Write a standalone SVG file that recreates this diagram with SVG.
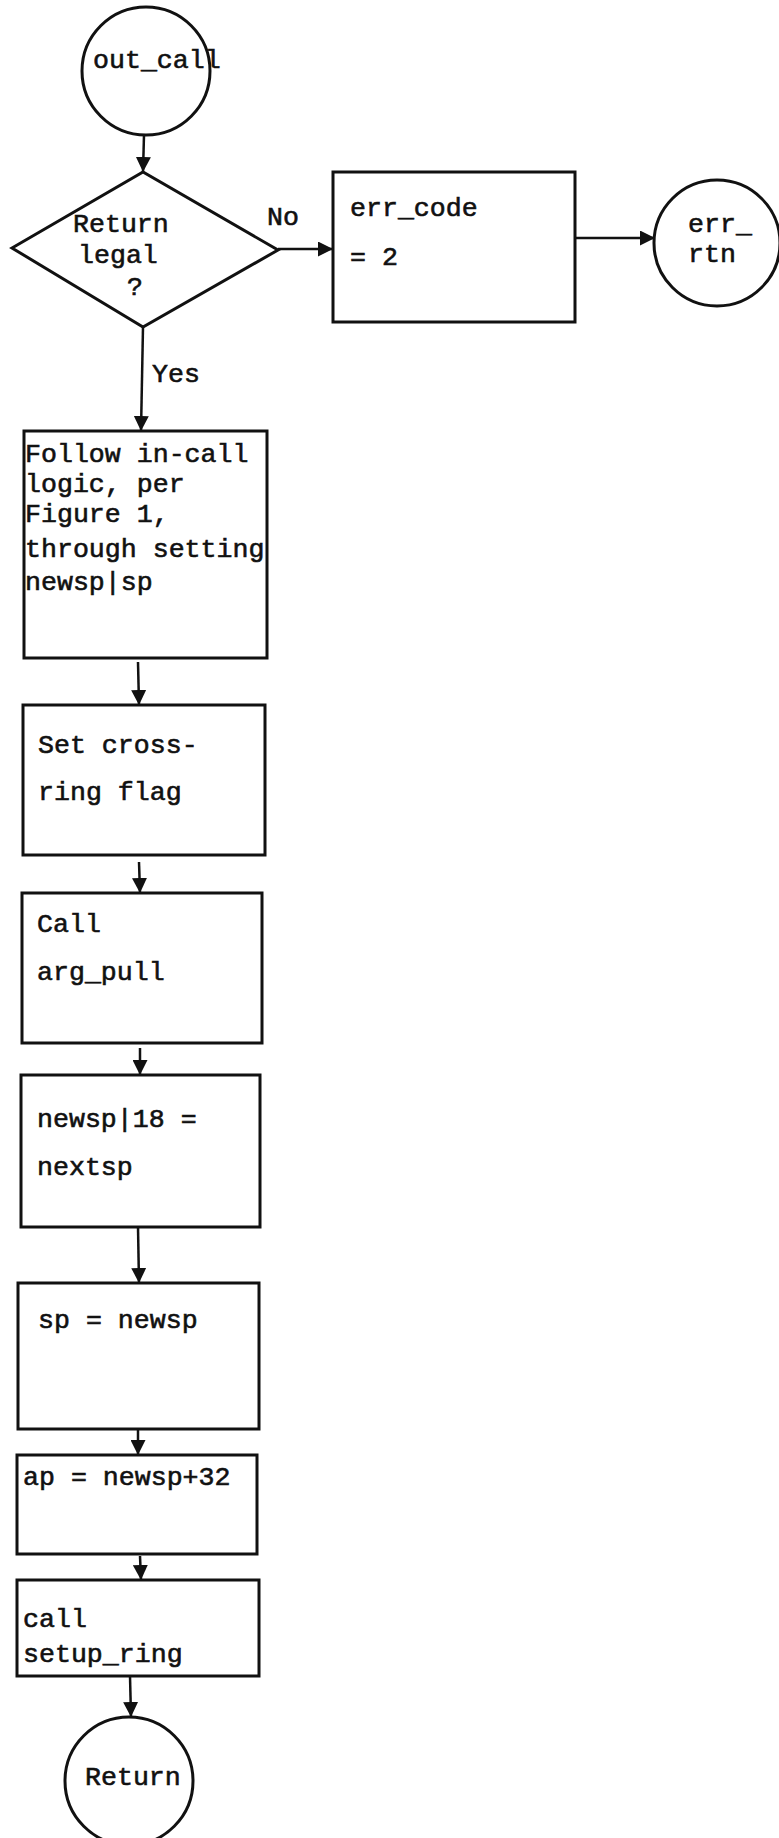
<svg xmlns="http://www.w3.org/2000/svg" width="779" height="1838" viewBox="0 0 779 1838">
<style>
  .n { fill: #ffffff; stroke: #111111; stroke-width: 3; }
  .c { stroke: #111111; stroke-width: 2.5; fill: none; marker-end: url(#ah); }
  text { font-family: "Liberation Mono", "Courier New", monospace; font-size: 26.6px; fill: #111111; stroke: #111111; stroke-width: 0.6px; }
</style>
<defs>
  <marker id="ah" markerUnits="userSpaceOnUse" markerWidth="15" markerHeight="15" refX="15" refY="7.5" orient="auto">
    <path d="M0,0 L15,7.5 L0,15 z" fill="#111111"/>
  </marker>
</defs>
<rect width="779" height="1838" fill="#ffffff"/>

<g id="connectors">
  <line class="c" x1="144" y1="135" x2="143" y2="172"/>
  <line class="c" x1="278" y1="249" x2="333" y2="249"/>
  <line class="c" x1="575" y1="238" x2="655" y2="238"/>
  <line class="c" x1="143" y1="327" x2="141" y2="431"/>
  <line class="c" x1="138" y1="662" x2="139" y2="705"/>
  <line class="c" x1="139" y1="862" x2="140" y2="893"/>
  <line class="c" x1="140" y1="1048" x2="140" y2="1075"/>
  <line class="c" x1="138" y1="1227" x2="139" y2="1283"/>
  <line class="c" x1="138" y1="1429" x2="138" y2="1455"/>
  <line class="c" x1="140" y1="1556" x2="141" y2="1580"/>
  <line class="c" x1="130" y1="1676" x2="131" y2="1717"/>
  <text x="267" y="225">No</text>
  <text x="152" y="382">Yes</text>
</g>

<g id="out_call">
  <circle class="n" cx="146" cy="71" r="64"/>
  <text x="93" y="68">out_call</text>
</g>

<g id="return_legal">
  <polygon class="n" points="12,248 143,172 278,250 143,327"/>
  <text x="73" y="232">Return</text>
  <text x="78" y="263">legal</text>
  <text x="127" y="295">?</text>
</g>

<g id="err_code">
  <rect class="n" x="333" y="172" width="242" height="150"/>
  <text x="350" y="216">err_code</text>
  <text x="350" y="265">= 2</text>
</g>

<g id="err_rtn">
  <circle class="n" cx="717" cy="243" r="63"/>
  <text x="688" y="232">err_</text>
  <text x="688" y="262">rtn</text>
</g>

<g id="follow_in_call">
  <rect class="n" x="24" y="431" width="243" height="227"/>
  <text x="25" y="462">Follow in-call</text>
  <text x="25" y="492">logic, per</text>
  <text x="25" y="522">Figure 1,</text>
  <text x="25" y="557">through setting</text>
  <text x="25" y="590">newsp|sp</text>
</g>

<g id="set_cross_ring">
  <rect class="n" x="23" y="705" width="242" height="150"/>
  <text x="38" y="753">Set cross-</text>
  <text x="38" y="800">ring flag</text>
</g>

<g id="call_arg_pull">
  <rect class="n" x="22" y="893" width="240" height="150"/>
  <text x="37" y="932">Call</text>
  <text x="37" y="980">arg_pull</text>
</g>

<g id="newsp_18">
  <rect class="n" x="21" y="1075" width="239" height="152"/>
  <text x="37" y="1127">newsp|18 =</text>
  <text x="37" y="1175">nextsp</text>
</g>

<g id="sp_newsp">
  <rect class="n" x="18" y="1283" width="241" height="146"/>
  <text x="38" y="1328">sp = newsp</text>
</g>

<g id="ap_newsp">
  <rect class="n" x="17" y="1455" width="240" height="99"/>
  <text x="23" y="1485">ap = newsp+32</text>
</g>

<g id="setup_ring">
  <rect class="n" x="17" y="1580" width="242" height="96"/>
  <text x="23" y="1627">call</text>
  <text x="23" y="1662">setup_ring</text>
</g>

<g id="return">
  <circle class="n" cx="129" cy="1781" r="64"/>
  <text x="85" y="1785">Return</text>
</g>
</svg>
